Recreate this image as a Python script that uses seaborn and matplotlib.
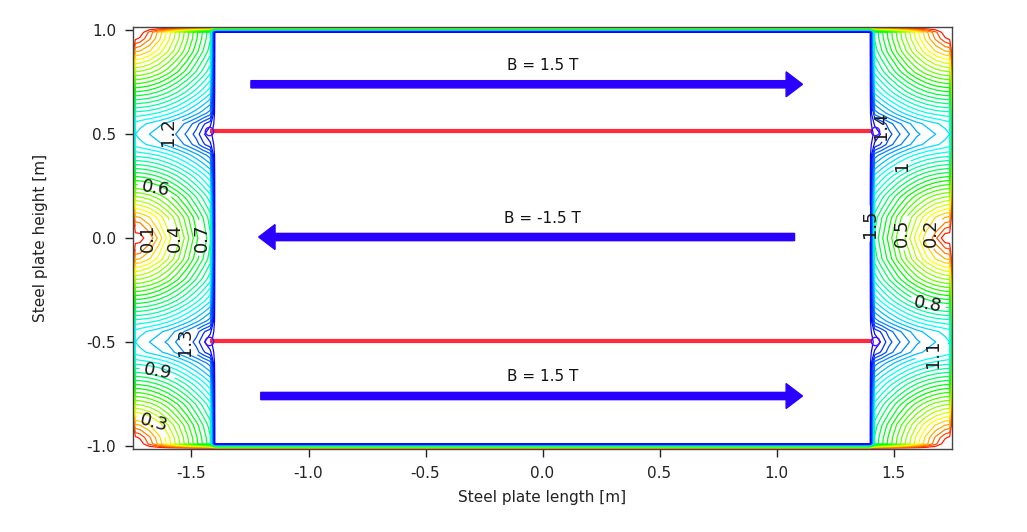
import numpy as np
import matplotlib
matplotlib.use("Agg")
import matplotlib.pyplot as plt
from matplotlib.colors import PowerNorm
import seaborn as sns

# grid: left half of the plate, upper quadrant (|B| in T)
xs_left = [-1.75, -1.74, -1.72, -1.68, -1.64, -1.60, -1.56, -1.52, -1.48, -1.45, -1.42, -1.40]
ys_top = [0.0, 0.1, 0.2, 0.3, 0.4, 0.45, 0.5, 0.55, 0.6, 0.7, 0.8, 0.9, 0.96, 0.99, 1.012]

b_y000 = [0, 0.00, 0.008, 0.112, 0.216, 0.320, 0.424, 0.528, 0.632, 0.710, 0.788, 1.52]
b_y010 = [0, 0.191, 0.201, 0.247, 0.317, 0.399, 0.488, 0.582, 0.679, 0.752, 0.826, 1.52]
b_y020 = [0, 0.451, 0.456, 0.481, 0.524, 0.580, 0.647, 0.722, 0.804, 0.867, 0.933, 1.52]
b_y030 = [0, 0.710, 0.714, 0.731, 0.761, 0.802, 0.853, 0.913, 0.979, 1.033, 1.090, 1.52]
b_y040 = [0, 0.970, 0.973, 0.986, 1.008, 1.041, 1.081, 1.130, 1.185, 1.230, 1.278, 1.52]
b_y045 = [0, 1.068, 1.083, 1.109, 1.137, 1.168, 1.215, 1.265, 1.324, 1.388, 1.437, 1.52]
b_y050 = [0, 1.100, 1.120, 1.150, 1.180, 1.210, 1.260, 1.310, 1.370, 1.440, 1.490, 1.52]
b_y055 = [0, 1.068, 1.083, 1.109, 1.137, 1.168, 1.215, 1.265, 1.324, 1.388, 1.437, 1.52]
b_y060 = [0, 0.970, 0.973, 0.986, 1.008, 1.041, 1.081, 1.130, 1.185, 1.230, 1.278, 1.52]
b_y070 = [0, 0.710, 0.714, 0.731, 0.761, 0.802, 0.853, 0.913, 0.979, 1.033, 1.090, 1.52]
b_y080 = [0, 0.451, 0.456, 0.481, 0.524, 0.580, 0.647, 0.722, 0.804, 0.867, 0.933, 1.52]
b_y090 = [0, 0.191, 0.201, 0.247, 0.317, 0.399, 0.488, 0.582, 0.679, 0.752, 0.826, 1.52]
b_y096 = [0, 0.037, 0.060, 0.140, 0.234, 0.334, 0.435, 0.537, 0.640, 0.717, 0.794, 1.52]
b_y099 = [0, 0.000, 0.012, 0.114, 0.217, 0.321, 0.425, 0.529, 0.633, 0.710, 0.789, 1.52]
b_y101 = [0, 0, 0, 0, 0, 0, 0, 0, 0, 0, 0, 0]

levels = [0.05, 0.1, 0.15, 0.2, 0.25, 0.3, 0.35, 0.4, 0.45, 0.5, 0.55, 0.6, 0.65, 0.7, 0.75,
          0.8, 0.85, 0.9, 0.95, 1.0, 1.05, 1.1, 1.15, 1.2, 1.25, 1.3, 1.35, 1.4, 1.45, 1.5]

# contour labels: level, position, text angle
label_levels = [1.2, 0.6, 0.1, 0.4, 0.7, 1.3, 0.9, 0.3,
                1.4, 1.0, 1.5, 0.5, 0.2, 0.8, 1.1]
label_pos = [(-1.596, 0.51), (-1.66, 0.22), (-1.68, 0.0), (-1.58, 0.0), (-1.46, 0.0),
             (-1.528, -0.5), (-1.651, -0.673), (-1.672, -0.909),
             (1.496, 0.58), (1.555, 0.31), (1.39, 0.07), (1.555, 0.02), (1.666, 0.02),
             (1.654, -0.29), (1.666, -0.54)]
label_rot = [90, -10, 90, 90, 90, 90, -10, -15,
             90, 90, 90, 90, 90, -10, 90]

strip_y = [0.515, -0.495]
strip_x = [-1.42, 1.41]

arrow_y = [0.74, 0.005, -0.76]
arrow_start = [-1.246, 1.077, -1.204]
arrow_end = [1.111, -1.213, 1.111]
arrow_text = ["B = 1.5 T", "B = -1.5 T", "B = 1.5 T"]
text_y = [0.832, 0.096, -0.668]

# assemble the full field by mirroring the quadrant
quad = np.array([b_y000, b_y010, b_y020, b_y030, b_y040, b_y045, b_y050, b_y055,
                 b_y060, b_y070, b_y080, b_y090, b_y096, b_y099, b_y101])
half = np.vstack([quad[::-1][:-1], quad])
field = np.hstack([half, half[:, ::-1]])
xs = np.array(xs_left + [-x for x in xs_left[::-1]])
ys = np.array([-y for y in ys_top[::-1]][:-1] + ys_top)
X, Y = np.meshgrid(xs, ys)

sns.set_theme(style="ticks")
plt.rcParams["font.family"] = ["DejaVu Sans"]
plt.rcParams["axes.unicode_minus"] = False

fig = plt.figure(figsize=(10.27, 5.32), dpi=100)
ax = fig.add_axes([0.1295, 0.156, 0.7975, 0.793])

cmap = sns.color_palette("gist_rainbow", as_cmap=True)
norm = PowerNorm(0.8, vmin=0, vmax=2.05)
labels_by_level = {}
for lev, pos, rot in zip(label_levels, label_pos, label_rot):
    labels_by_level.setdefault(round(lev, 2), []).append((pos, rot))

for lev in levels:
    cs = ax.contour(X, Y, field, levels=[lev], colors=[cmap(norm(lev))], linewidths=0.9)
    entries = labels_by_level.get(round(lev, 2))
    if entries:
        texts = ax.clabel(cs, manual=[e[0] for e in entries], inline=True, fmt="%g",
                          fontsize=13, colors="k", inline_spacing=4)
        for t, e in zip(texts, entries):
            t.set_rotation(e[1])

for sy in strip_y:
    ax.plot(strip_x, [sy, sy], color="#ff2a3c", lw=3, solid_capstyle="butt", zorder=4)
    ax.plot([strip_x[0] - 0.005, strip_x[1] + 0.01], [sy, sy], "o", ms=6, mfc="none",
            mec="#4a10ff", mew=1, zorder=5)

for x0, x1, y, t, ty in zip(arrow_start, arrow_end, arrow_y, arrow_text, text_y):
    ax.arrow(x0, y, x1 - x0, 0, width=0.035, head_width=0.12, head_length=0.07,
             length_includes_head=True, color="#2a00ff", zorder=5)
    ax.text(0, ty, t, ha="center", va="center", fontsize=11, color="#111111")

ax.set_xlim(-1.75, 1.75)
ax.set_ylim(-1.015, 1.015)
ax.set_xticks([-1.5, -1.0, -0.5, 0.0, 0.5, 1.0, 1.5])
ax.set_yticks([-1.0, -0.5, 0.0, 0.5, 1.0])
ax.set_xticklabels(["-1.5", "-1.0", "-0.5", "0.0", "0.5", "1.0", "1.5"])
ax.set_yticklabels(["-1.0", "-0.5", "0.0", "0.5", "1.0"])
ax.tick_params(direction="out", length=6, width=1, labelsize=11, colors="#222222", pad=6)
for sp in ax.spines.values():
    sp.set_color("#444444")
    sp.set_linewidth(1)
ax.set_xlabel("Steel plate length [m]", fontsize=11, color="#222222", labelpad=7)
ax.set_ylabel("Steel plate height [m]", fontsize=11, color="#222222", labelpad=28)

fig.savefig("out.png", dpi=100)
plt.close(fig)
